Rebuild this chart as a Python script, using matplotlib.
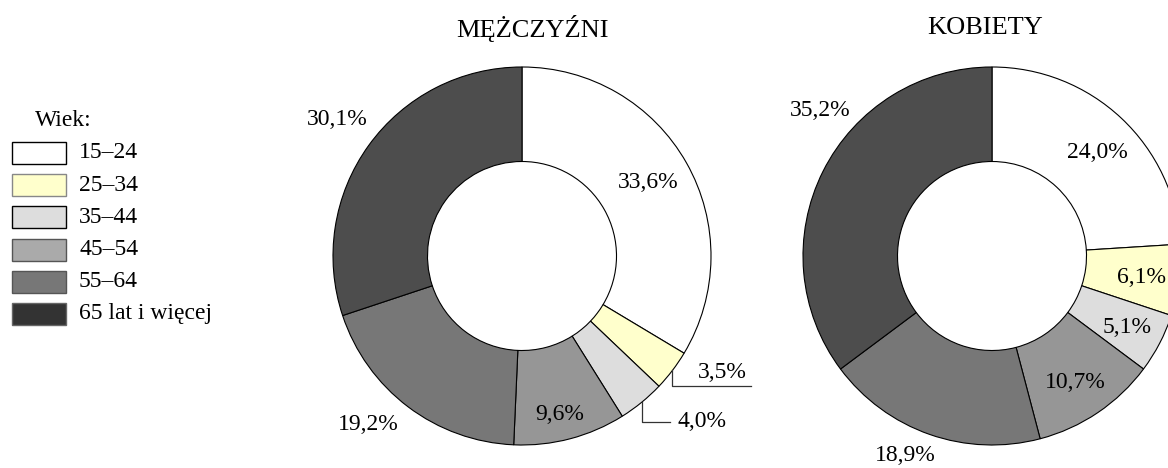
import numpy as np
import matplotlib
matplotlib.use('Agg')
from matplotlib import pyplot as plt
from matplotlib.patches import Rectangle

plt.rcParams['font.family'] = ['Liberation Serif', 'DejaVu Serif']

# Data
age_groups = ['15–24', '25–34', '35–44', '45–54', '55–64', '65 lat i więcej']
men = [33.6, 3.5, 4.0, 9.6, 19.2, 30.1]
women = [24.0, 6.1, 5.1, 10.7, 18.9, 35.2]
titles = ['MĘŻCZYŹNI', 'KOBIETY']

# Colours
wedge_colors = ['#ffffff', '#ffffcc', '#dddddd', '#969696', '#777777', '#4d4d4d']
legend_colors = ['#ffffff', '#ffffcc', '#dddddd', '#aaaaaa', '#777777', '#333333']
legend_edges = ['black', '#888888', 'black', '#555555', '#555555', '#666666']

W, H = 1168, 468
fig = plt.figure(figsize=(W / 100, H / 100), dpi=100)

# overlay in pixel coordinates for legend and titles
ov = fig.add_axes([0, 0, 1, 1])
ov.set_xlim(0, W)
ov.set_ylim(H, 0)
ov.axis('off')

R = 189  # outer radius in px
centers = [(522, 256), (992, 256)]


def fmt(v):
    return '{:.1f}'.format(v).replace('.', ',') + '%'


# label positions (in units of outer radius) and leader lines
men_labels = {0: (0.67, 0.39), 3: (0.20, -0.84), 4: (-0.815, -0.894), 5: (-0.98, 0.72)}
women_labels = {0: (0.556, 0.545), 1: (0.79, -0.116), 2: (0.714, -0.376),
                3: (0.44, -0.67), 4: (-0.46, -1.055), 5: (-0.91, 0.77)}
# idx: (line y, line end x, text x, text y, ha)
men_leaders = {1: (-0.688, 1.21, 1.06, -0.614, 'center'),
               2: (-0.878, 0.783, 0.825, -0.878, 'left')}

for k, (values, labels, leaders) in enumerate([(men, men_labels, men_leaders),
                                                (women, women_labels, {})]):
    cx, cy = centers[k]
    ax = fig.add_axes([(cx - R) / W, (H - cy - R) / H, 2 * R / W, 2 * R / H])
    ax.pie(values, colors=wedge_colors, startangle=90, counterclock=False, radius=1,
           wedgeprops=dict(width=0.5, edgecolor='black', linewidth=0.8))
    # pie() resets the limits, so set them afterwards
    ax.set_xlim(-1, 1)
    ax.set_ylim(-1, 1)
    ax.axis('off')
    for i, (x, y) in labels.items():
        ax.text(x, y, fmt(values[i]), ha='center', va='center', fontsize=17)
    cum = np.cumsum([0] + values) / sum(values)
    for i, (ly, lx, tx, ty, ha) in leaders.items():
        ang = np.deg2rad(90 - 360 * (cum[i] + cum[i + 1]) / 2)
        x0, y0 = np.cos(ang), np.sin(ang)
        ax.plot([x0, x0, lx], [y0, ly, ly], color='#333333', lw=0.9, clip_on=False)
        ax.text(tx, ty, fmt(values[i]), ha=ha, va='center', fontsize=17)
    ov.text(cx + (10 if k == 0 else -7), 28, titles[k], ha='center', va='center', fontsize=19)

# legend
ov.text(63, 120, 'Wiek:', ha='center', va='center', fontsize=17)
for i, g in enumerate(age_groups):
    y = 153 + i * 32.2
    ov.add_patch(Rectangle((12, y - 11), 54, 22, facecolor=legend_colors[i],
                           edgecolor=legend_edges[i], lw=1))
    ov.text(79, y, g, ha='left', va='center', fontsize=17)

fig.savefig('out.png', dpi=100)
